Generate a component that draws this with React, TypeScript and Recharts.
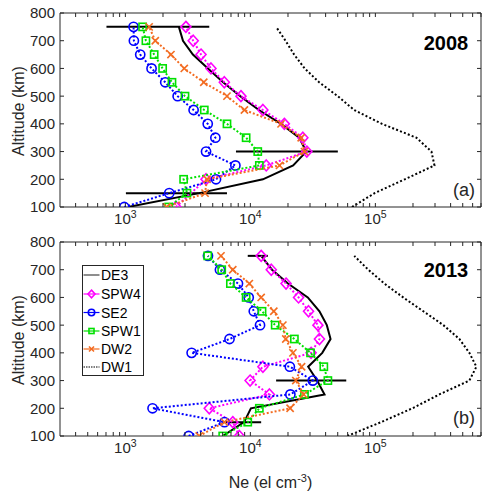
import React from "react";
import { ScatterChart, Scatter, XAxis, YAxis, ReferenceArea, Legend } from "recharts";

const AX = "#262626";
const FONT = "'Liberation Sans', Arial, Helvetica, sans-serif";
const MAGENTA = "#FF00FF";
const BLUE = "#0000FF";
const GREEN = "#00E000";
const ORANGE = "#F36C21";

// altitude grid (km)
const altitudes = [100, 150, 200, 250, 300, 350, 400, 450, 500, 550, 600, 650, 700, 750];
const yTicks = [100, 200, 300, 400, 500, 600, 700, 800];
const xMajor = [1000, 10000, 100000];
const xTicks = [
  400, 500, 600, 700, 800, 900, 1000,
  2000, 3000, 4000, 5000, 6000, 7000, 8000, 9000, 10000,
  20000, 30000, 40000, 50000, 60000, 70000, 80000, 90000, 100000,
  200000, 300000, 400000, 500000, 600000, 700000,
];

// 2008 (el cm-3)
const de3_2008 = [1050, 3900, 12600, 22000, 28000, 24600, 17600, 11700, 8300, 6050, 4580, 3470, 2890, 2680];
const spw4_2008 = [2540, null, 4420, 13400, 28300, 26300, 18700, 12600, 8410, 6190, 4840, 4030, 3490, 3050];
const se2_2008 = [980, 2245, 5310, 7590, 4420, 5250, 4560, 3515, 2620, 2084, 1620, 1315, 1170, 1163];
const spw1_2008 = [2220, 3110, 2925, 11800, 11460, 9250, 6500, 4280, 3000, 2360, 1987, 1700, 1460, 1374];
const dw2_2008 = [2140, 4340, 4500, 17100, 27100, 25500, 17600, 8960, 6500, 4240, 2960, 2316, 1735, 1550];
const dw1_2008 = [65000, 98600, 172000, 297000, 281000, 213000, 113000, 67700, 50000, 35500, 27200, 22400, 19100, 16070];

// 2013
const de3_2013 = [6010, 8910, 10100, 39200, 34200, 29000, 37600, 43800, 40900, 35700, 28800, 20000, 14900, 12200];
const spw4_2013 = [8160, 7230, 4690, 14200, 9950, 12600, 30600, 35700, 34700, 29200, 24300, 19300, 14700, 12200];
const se2_2013 = [3210, 6210, 1650, 20900, 31600, 20700, 3390, 6810, 11950, 10650, 9700, 7960, 5710, 4580];
const spw1_2013 = [6010, 9530, 11800, 27100, 41700, 38700, 30300, 22500, 15800, 12400, 9250, 6920, 5900, 4560];
const dw2_2013 = [3900, 6200, 20800, 26700, 23100, 25700, 21900, 19200, 18200, 15400, 12200, 9810, 7230, 5820];
const dw1_2013 = [59600, 111000, 198000, 325000, 565000, 643000, 565000, 470000, 350000, 242000, 167000, 118000, 87700, 67800];

// DE3 horizontal error bars
const errAlt = [150, 300, 750];
const errLo2008 = [1010, 7670, 706];
const errHi2008 = [6500, 50100, 4690];
const errLo2013 = [6380, 16070, 9530];
const errHi2013 = [12200, 58500, 13800];

const W = 482;
const PLOT_LEFT = 60;
const PLOT_W = 421;
const PLOT_H = 194;

type Marker = "diamond" | "circle" | "square" | "cross" | null;
const series: { name: string; color: string; marker: Marker; dash?: string; width: number }[] = [
  { name: "DE3", color: "#000", marker: null, width: 2 },
  { name: "SPW4", color: MAGENTA, marker: "diamond", dash: "2 2", width: 2 },
  { name: "SE2", color: BLUE, marker: "circle", dash: "2 2", width: 2 },
  { name: "SPW1", color: GREEN, marker: "square", dash: "2 2", width: 2 },
  { name: "DW2", color: ORANGE, marker: "cross", dash: "2 2", width: 2 },
  { name: "DW1", color: "#000", marker: null, dash: "2 2.2", width: 2 },
];

const toPoints = (vals: (number | null)[]) =>
  altitudes.map((a, i) => ({ x: vals[i], y: a })).filter((p) => p.x != null);

function MarkerShape({ cx, cy, kind, color, s = 1 }: any) {
  if (cx == null || cy == null) return <g />;
  const sw = 1.6;
  if (kind === "diamond") {
    const h = 5.5 * s, w = 5 * s;
    return <path d={`M${cx},${cy - h}L${cx + w},${cy}L${cx},${cy + h}L${cx - w},${cy}Z`} fill="none" stroke={color} strokeWidth={sw} />;
  }
  if (kind === "circle") return <circle cx={cx} cy={cy} r={4.6 * s} fill="none" stroke={color} strokeWidth={sw} />;
  if (kind === "square") {
    const h = 3.6 * s;
    return <rect x={cx - h} y={cy - h} width={2 * h} height={2 * h} fill="none" stroke={color} strokeWidth={sw} />;
  }
  if (kind === "cross") {
    const h = 3.6 * s;
    return (
      <g stroke={color} strokeWidth={sw}>
        <line x1={cx - h} y1={cy - h} x2={cx + h} y2={cy + h} />
        <line x1={cx - h} y1={cy + h} x2={cx + h} y2={cy - h} />
      </g>
    );
  }
  return <g />;
}

function XTick({ x, y, payload }: any) {
  const v = payload.value;
  const major = xMajor.includes(v);
  return (
    <g>
      <line x1={x} y1={y} x2={x} y2={y - 4} stroke={AX} />
      <line x1={x} y1={y - PLOT_H} x2={x} y2={y - PLOT_H + 4} stroke={AX} />
      {major && (
        <text x={x} y={y + 17} textAnchor="middle" fontSize={15} fill={AX} fontFamily={FONT}>
          10<tspan dy={-6} fontSize={10.5}>{Math.round(Math.log10(v))}</tspan>
        </text>
      )}
    </g>
  );
}

function YTick({ x, y, payload }: any) {
  return (
    <g>
      <line x1={x} y1={y} x2={x + 4} y2={y} stroke={AX} />
      <line x1={x + PLOT_W} y1={y} x2={x + PLOT_W - 4} y2={y} stroke={AX} />
      <text x={x - 5} y={y} dy="0.36em" textAnchor="end" fontSize={15} fill={AX} fontFamily={FONT}>
        {payload.value}
      </text>
    </g>
  );
}

function LegendBox() {
  const rows = [10, 29, 47.5, 66, 84, 102];
  return (
    <svg width={62} height={112} style={{ display: "block" }}>
      <rect x={0.5} y={0.5} width={61} height={110} fill="#fff" stroke={AX} strokeWidth={1} />
      {series.map((s, i) => (
        <g key={s.name}>
          <line x1={1.5} x2={17.5} y1={rows[i]} y2={rows[i]} stroke={s.name === "DE3" ? "#444" : s.color}
            strokeWidth={1.2} strokeDasharray={s.name === "DW1" ? "1.5 1" : undefined} />
          <MarkerShape cx={9.5} cy={rows[i]} kind={s.marker} color={s.color} s={0.7} />
          <text x={19} y={rows[i]} dy="0.36em" fontSize={14} fill="#000" fontFamily={FONT}>{s.name}</text>
        </g>
      ))}
    </svg>
  );
}

function Panel({ top, height, marginTop, data, errLo, errHi, legendTop }: any) {
  const xAxisH = height - marginTop - PLOT_H;
  return (
    <div style={{ position: "absolute", left: 0, top }}>
      <ScatterChart width={W} height={height} margin={{ top: marginTop, right: W - PLOT_LEFT - PLOT_W, bottom: 0, left: 0 }}>
        <XAxis dataKey="x" type="number" scale="log" domain={[300, 700000]} allowDataOverflow ticks={xTicks}
          interval={0} tickSize={0} tickMargin={0} axisLine={false} tickLine={false} height={xAxisH} tick={<XTick />} />
        <YAxis dataKey="y" type="number" domain={[100, 800]} allowDataOverflow ticks={yTicks} interval={0}
          width={PLOT_LEFT} tickSize={0} tickMargin={0} axisLine={false} tickLine={false} tick={<YTick />} />
        <ReferenceArea x1={300} x2={700000} y1={100} y2={800} fill="none" stroke={AX} strokeWidth={1} ifOverflow="visible" />
        {series.map((s, i) => {
          const el = (
            <Scatter key={s.name} name={s.name} data={toPoints(data[i])} isAnimationActive={false}
              line={{ stroke: s.color, strokeWidth: s.width, strokeDasharray: s.dash }} lineJointType="linear"
              shape={(p: any) => <MarkerShape cx={p.cx} cy={p.cy} kind={s.marker} color={s.color} />} />
          );
          if (i !== 0) return el;
          return [
            el,
            ...errAlt.map((a, k) => (
              <Scatter key={`err${a}`} name={`err${a}`} legendType="none" isAnimationActive={false}
                data={[{ x: errLo[k], y: a }, { x: errHi[k], y: a }]}
                line={{ stroke: "#000", strokeWidth: 2 }} shape={() => <g />} />
            )),
          ];
        })}
        {legendTop != null && (
          <Legend layout="vertical" align="center" verticalAlign="middle" content={() => <LegendBox />}
            wrapperStyle={{ position: "absolute", left: 82, top: legendTop, width: 62, height: 112 }} />
        )}
      </ScatterChart>
    </div>
  );
}

export default function App() {
  return (
    <div style={{ position: "absolute", left: 0, top: 0, width: W, height: 491, background: "#fff", fontFamily: FONT }}>
      <Panel top={0} height={230} marginTop={13} errLo={errLo2008} errHi={errHi2008}
        data={[de3_2008, spw4_2008, se2_2008, spw1_2008, dw2_2008, dw1_2008]} />
      <Panel top={225} height={266} marginTop={17} errLo={errLo2013} errHi={errHi2013} legendTop={40}
        data={[de3_2013, spw4_2013, se2_2013, spw1_2013, dw2_2013, dw1_2013]} />
      <svg width={W} height={491} style={{ position: "absolute", left: 0, top: 0, pointerEvents: "none" }} fontFamily={FONT}>
        <text x={24} y={111} transform="rotate(-90 24 111)" textAnchor="middle" fontSize={16} fill={AX}>Altitude (km)</text>
        <text x={24} y={340} transform="rotate(-90 24 340)" textAnchor="middle" fontSize={16} fill={AX}>Altitude (km)</text>
        <text x={446} y={50} textAnchor="middle" fontSize={20} fontWeight="bold" fill="#000">2008</text>
        <text x={446} y={277} textAnchor="middle" fontSize={20} fontWeight="bold" fill="#000">2013</text>
        <text x={475} y={196} textAnchor="end" fontSize={18} fill={AX}>(a)</text>
        <text x={475} y={424} textAnchor="end" fontSize={18} fill={AX}>(b)</text>
        <text x={270.5} y={488} textAnchor="middle" fontSize={16} fill={AX}>
          Ne (el cm<tspan dy={-6} fontSize={11}>-3</tspan><tspan dy={6}>)</tspan>
        </text>
      </svg>
    </div>
  );
}
